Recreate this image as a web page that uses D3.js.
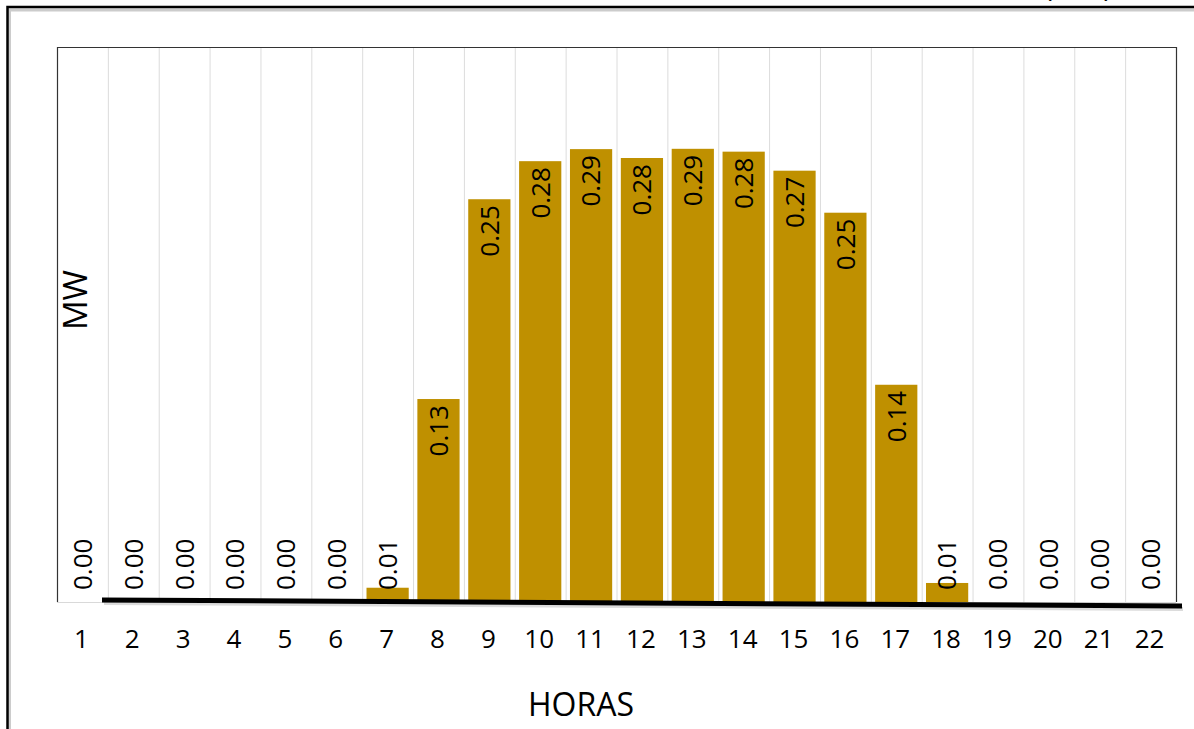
<!DOCTYPE html>
<html>
<head>
<meta charset="utf-8">
<script src="https://cdn.jsdelivr.net/npm/d3@7"></script>
<style>
  html, body { margin: 0; padding: 0; background: #fff; }
  svg { display: block; }
  text { font-family: "Open Sans", sans-serif; fill: #000; }
</style>
</head>
<body>
<svg id="chart" width="1194" height="729"></svg>
<script>
const hours = ["1","2","3","4","5","6","7","8","9","10","11","12","13","14","15","16","17","18","19","20","21","22"];
const values = [0, 0, 0, 0, 0, 0, 0.009, 0.128, 0.254, 0.278, 0.2856, 0.280, 0.2858, 0.284, 0.272, 0.2455, 0.137, 0.012, 0, 0, 0, 0];
const yDomain = [0, 0.35];
const xTitle = "HORAS";
const yTitle = "MW";
const topTitle = "(MW)";

const svg = d3.select("#chart");
const W = 1194, H = 729;
const plot = { left: 57, right: 1176, top: 47, bottom: 602 };

const x = d3.scaleBand().domain(hours).range([plot.left, plot.right]).paddingInner(0.17).paddingOuter(0.085);
const xb = d3.scaleBand().domain(hours).range([plot.left, plot.right]).padding(0);
const y = d3.scaleLinear().domain(yDomain).range([plot.bottom, plot.top]);

// title above the frame (cut off at the top edge, as in the reference)
svg.append("text").attr("x", 1078).attr("y", -3).attr("text-anchor", "middle")
  .attr("font-size", 28).text(topTitle);

// outer border
svg.append("path").attr("d", `M8.5,${H} V8.5 H${W}`).attr("fill", "none")
  .attr("stroke", "#ccc").attr("stroke-width", 3).attr("transform", "translate(1,1.5)");
svg.append("path").attr("d", `M7.5,${H} V7 H${W}`).attr("fill", "none")
  .attr("stroke", "#000").attr("stroke-width", 2.5);

// vertical gridlines at category boundaries
const bounds = hours.slice(1).map(h => xb(h));
svg.append("g").selectAll("line").data(bounds).join("line")
  .attr("x1", d => d + 0.5).attr("x2", d => d + 0.5)
  .attr("y1", plot.top).attr("y2", plot.bottom)
  .attr("stroke", "#dcdcdc").attr("stroke-width", 1);

// plot frame
svg.append("line").attr("x1", plot.left).attr("x2", plot.right).attr("y1", plot.bottom + 0.5).attr("y2", plot.bottom + 0.5)
  .attr("stroke", "#d9d9d9");
svg.append("path").attr("d", `M${plot.left + 0.5},${plot.bottom} V${plot.top + 0.5} H${plot.right + 0.5} V${plot.bottom}`)
  .attr("fill", "none").attr("stroke", "#333").attr("stroke-width", 1.2);

// bars
svg.append("g").selectAll("rect").data(values).join("rect")
  .attr("x", (d, i) => x(hours[i]))
  .attr("width", x.bandwidth())
  .attr("y", d => y(d))
  .attr("height", d => y(0) - y(d))
  .attr("fill", "#BF9000");

// value labels
const fmt = d3.format(".2f");
svg.append("g").selectAll("text").data(values).join("text")
  .attr("font-size", 26)
  .attr("dy", "0.36em")
  .attr("text-anchor", d => (y(0) - y(d)) > 70 ? "end" : "start")
  .attr("transform", (d, i) => {
    const cx = x(hours[i]) + x.bandwidth() / 2;
    const ty = (y(0) - y(d)) > 70 ? y(d) + 6 : 590;
    return `translate(${cx},${ty}) rotate(-90)`;
  })
  .text(d => fmt(d));

// thick black baseline stroke (slightly slanted)
svg.append("line").attr("x1", 104).attr("y1", 603).attr("x2", 1183).attr("y2", 609)
  .attr("stroke", "#999").attr("stroke-width", 4).attr("opacity", 0.35);
svg.append("line").attr("x1", 102).attr("y1", 600).attr("x2", 1182).attr("y2", 606)
  .attr("stroke", "#000").attr("stroke-width", 5);

// x axis tick labels
svg.append("g").selectAll("text").data(hours).join("text")
  .attr("x", d => xb(d) + xb.bandwidth() / 2 - 1)
  .attr("y", 648)
  .attr("text-anchor", "middle")
  .attr("font-size", 26)
  .text(d => d);

// axis titles
svg.append("text").attr("x", 581).attr("y", 716).attr("text-anchor", "middle")
  .attr("font-size", 32).text(xTitle);
svg.append("text").attr("transform", "translate(87,300) rotate(-90)").attr("text-anchor", "middle")
  .attr("font-size", 33).text(yTitle);
</script>
</body>
</html>
